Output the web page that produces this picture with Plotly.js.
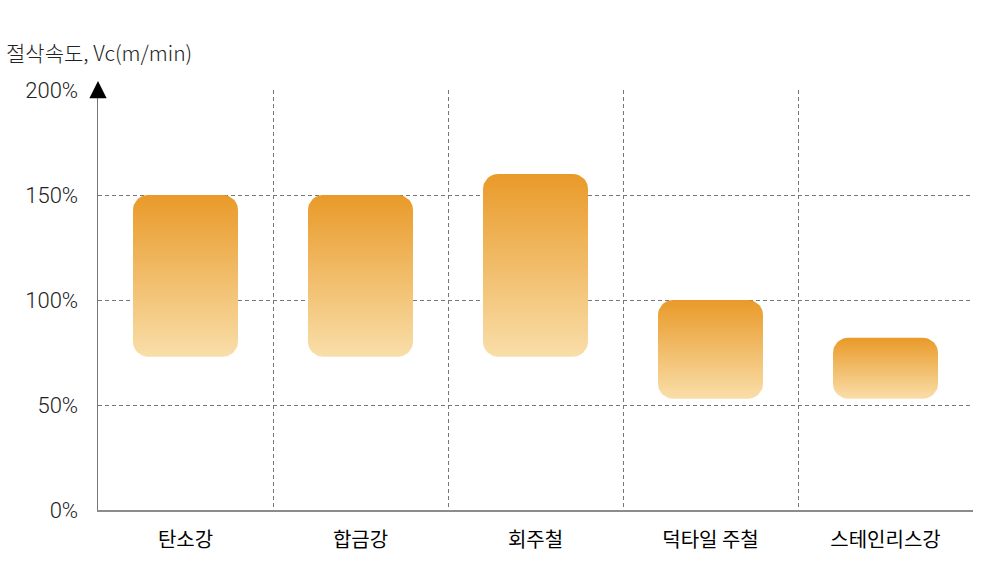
<!DOCTYPE html>
<html>
<head>
<meta charset="utf-8">
<script src="https://cdn.plot.ly/plotly-3.0.1.min.js"></script>
<style>html,body{margin:0;padding:0;background:#fff;}#chart{width:1000px;height:575px;}</style>
</head>
<body>
<div id="chart"></div>
<script>
// ---- data ----
const categories = ['탄소강', '합금강', '회주철', '덕타일 주철', '스테인리스강'];
const lowValues  = [73, 73, 73, 53, 53];     // % lower bound
const highValues = [150, 150, 160, 100, 82]; // % upper bound
const yTickVals  = [0, 50, 100, 150, 200];
const yTickText  = ['0%', '50%', '100%', '150%', '200%'];
const titleText  = '절삭속도, Vc(m/min)';

// ---- style ----
const FONT = '"Noto Sans CJK KR", "Noto Sans", sans-serif';
const NUMFONT = 'Roboto, "Noto Sans", sans-serif';
const W = 1000, H = 575;
const M = {l: 98, r: 27, t: 90, b: 65};
const plotW = W - M.l - M.r, plotH = H - M.t - M.b;
const xRange = [0, categories.length], yRange = [0, 200];
const barHalfPx = 52.5, radiusPx = 15;
const pxX = (xRange[1] - xRange[0]) / plotW;
const pxY = (yRange[1] - yRange[0]) / plotH;

function roundedBar(cx, lo, hi) {
  const hw = barHalfPx * pxX, rx = radiusPx * pxX, ry = radiusPx * pxY;
  const xs = [], ys = [];
  const corners = [
    [cx + hw - rx, hi - ry, 0, 90],
    [cx - hw + rx, hi - ry, 90, 180],
    [cx - hw + rx, lo + ry, 180, 270],
    [cx + hw - rx, lo + ry, 270, 360]
  ];
  corners.forEach(([ccx, ccy, a0, a1]) => {
    for (let i = 0; i <= 12; i++) {
      const a = (a0 + (a1 - a0) * i / 12) * Math.PI / 180;
      xs.push(ccx + rx * Math.cos(a));
      ys.push(ccy + ry * Math.sin(a));
    }
  });
  xs.push(xs[0]); ys.push(ys[0]);
  return {xs, ys};
}

const traces = categories.map((c, i) => {
  const r = roundedBar(i + 0.5, lowValues[i], highValues[i]);
  return {
    type: 'scatter', mode: 'lines', x: r.xs, y: r.ys,
    fill: 'toself', line: {width: 0, color: 'rgba(0,0,0,0)'},
    fillgradient: {type: 'vertical', colorscale: [[0, '#F9DEA9'], [1, '#E99A29']]},
    hoverinfo: 'skip', showlegend: false, name: c
  };
});

const layout = {
  width: W, height: H,
  margin: M,
  paper_bgcolor: '#fff', plot_bgcolor: '#fff',
  font: {family: FONT, color: '#222'},
  title: {
    text: titleText, xref: 'container', yref: 'container',
    x: 0.006, xanchor: 'left', y: 1 - 54 / H, yanchor: 'middle',
    font: {family: FONT, size: 21, color: '#222', weight: 300}
  },
  xaxis: {
    range: xRange, fixedrange: true,
    tickmode: 'array', tickvals: categories.map((c, i) => i + 0.5), ticktext: categories,
    ticks: '', showgrid: false, zeroline: false,
    showline: true, linecolor: '#8c8c8c', linewidth: 2,
    tickfont: {family: FONT, size: 20, color: '#000', weight: 400},
    ticklabelstandoff: 11,
    minor: {tickmode: 'array', tickvals: [1, 2, 3, 4], showgrid: true, gridcolor: '#777', griddash: '4px,3px', gridwidth: 1, ticks: ''}
  },
  yaxis: {
    range: yRange, fixedrange: true,
    tickmode: 'array', tickvals: yTickVals, ticktext: yTickText,
    ticks: '', showgrid: false, zeroline: false,
    showline: true, linecolor: '#777', linewidth: 1.5,
    tickfont: {family: NUMFONT, size: 22, color: '#222', weight: 300},
    ticklabelstandoff: 14,
    minor: {tickmode: 'array', tickvals: [50, 100, 150], showgrid: true, gridcolor: '#777', griddash: '4px,3px', gridwidth: 1, ticks: ''}
  },
  annotations: [{
    xref: 'paper', yref: 'paper', x: 0, y: 1 + 9 / plotH,
    axref: 'pixel', ayref: 'pixel', ax: 0, ay: 12,
    text: '', showarrow: true, arrowhead: 2, arrowsize: 2.3, arrowwidth: 1.5, arrowcolor: '#000'
  }]
};

Plotly.newPlot('chart', traces, layout, {staticPlot: true, displayModeBar: false});
</script>
</body>
</html>
